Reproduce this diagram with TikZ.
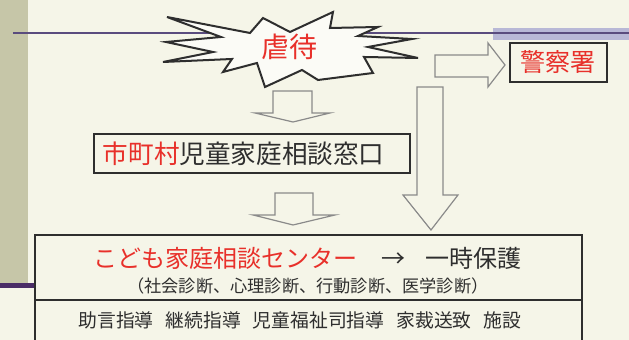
\documentclass[tikz,border=0pt]{standalone}
\usepackage{fontspec}
\setmainfont{Noto Sans CJK JP}
\usetikzlibrary{positioning}
\definecolor{paper}{HTML}{F5F5E8}
\definecolor{strip}{HTML}{C6C6A8}
\definecolor{band}{HTML}{B8B8D6}
\definecolor{rule}{HTML}{5A4C7E}
\definecolor{deep}{HTML}{4A2C66}
\definecolor{alert}{HTML}{E8302A}
\definecolor{ink}{HTML}{2E2E2E}
\definecolor{shade}{HTML}{8A8A8A}

\begin{document}
\begin{tikzpicture}[x=0.5pt, y=-0.5pt,
  box/.style = {draw=ink, line width=1pt, inner sep=0pt, outer sep=0pt},
  hollow/.style = {draw=shade, line width=0.6pt, fill=paper},
  txt/.style = {inner sep=0pt, text=ink}]
\fill[paper] (0,0) rectangle (629,340);
\clip (0,0) rectangle (629,340);
\fill[strip] (0,0) rectangle (28,283);
\fill[deep] (0,283) rectangle (35,288);
\fill[band] (493,28) rectangle (629,40);
\draw[rule, line width=0.8pt] (13,33) -- (629,33);

\draw[ink, line width=1pt, fill=white!60!paper, line join=miter]
  (167,17) -- (250,33) -- (263,18) -- (290,32) -- (333,12) -- (330,28)
  -- (378,27) -- (358,36) -- (412,39) -- (368,47) -- (418,58) -- (364,57)
  -- (373,73) -- (318,80) -- (302,70) -- (265,87) -- (257,63) -- (223,72)
  -- (232,59) -- (163,62) -- (213,52) -- (166,42) -- (221,37) -- cycle;
\node[txt, text=alert, font=\fontsize{14}{14}\selectfont] (abuse) at (290,47) {虐待};

\draw[hollow] (273,91) -- (312,91) -- (312,113) -- (330,113) -- (293,122)
  -- (255,113) -- (273,113) -- cycle;
\draw[hollow] (435,55) -- (488,55) -- (488,43) -- (505,65) -- (488,87)
  -- (488,77) -- (435,77) -- cycle;
\draw[hollow] (417,87) -- (443,87) -- (443,195) -- (458,195) -- (431,230)
  -- (403,195) -- (417,195) -- cycle;
\draw[hollow] (275,193) -- (313,193) -- (313,215) -- (335,215) -- (293,225)
  -- (253,215) -- (275,215) -- cycle;

\node[box, minimum width=48.5pt, minimum height=19.5pt, text=alert,
  font=\fontsize{12.5}{12.5}\selectfont] (police) at (558.5,62.5) {警察署};
\node[box, minimum width=158pt, minimum height=19.5pt, text width=149pt,
  inner xsep=4.5pt, align=left, text=ink,
  font=\fontsize{12.8}{12.8}\selectfont] (city) at (252,153.5)
  {{\color{alert}市町村}児童家庭相談窓口};

\node[box, minimum width=273.5pt, minimum height=32.5pt] (centre) at (308.5,267.5) {};
\node[box, minimum width=273.5pt, minimum height=30pt, below=0pt of centre] (support) {};
\node[txt, font=\fontsize{12}{12}\selectfont] (title) at (308,258)
  {{\color{alert}こども家庭相談センター}\hspace{12pt}→\hspace{10pt}一時保護};
\node[txt, font=\fontsize{8.6}{8.6}\selectfont] (checks) at (308,286)
  {（社会診断、心理診断、行動診断、医学診断）};
\node[txt, font=\fontsize{9.4}{9.4}\selectfont] (measures) at (300,320)
  {助言指導\hspace{6pt}継続指導\hspace{6pt}児童福祉司指導\hspace{6pt}家裁送致\hspace{6pt}施設};
\end{tikzpicture}
\end{document}
